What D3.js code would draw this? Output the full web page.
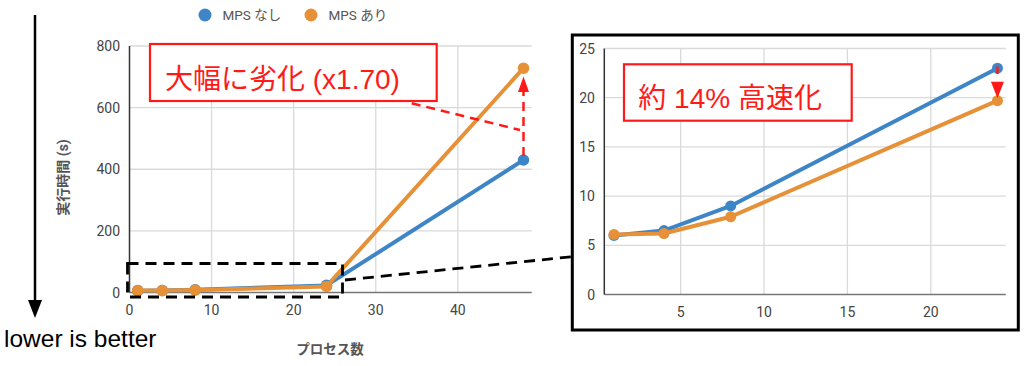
<!DOCTYPE html>
<html><head><meta charset="utf-8">
<script src="https://cdn.jsdelivr.net/npm/d3@7"></script>
<style>body{margin:0;background:#fff}svg{display:block}</style>
</head><body>
<svg id="c" width="1024" height="366"></svg>
<script>
const processes = [1, 4, 8, 24, 48];
const mpsOff = [6.0, 6.5, 9.0, 23.0, 430];
const mpsOn  = [6.1, 6.2, 7.9, 19.7, 728];
const seriesNames = ["MPS なし", "MPS あり"];
const mainYTicks = [0, 200, 400, 600, 800];
const mainXTicks = [0, 10, 20, 30, 40];
const insetYTicks = [0, 5, 10, 15, 20, 25];
const insetXTicks = [5, 10, 15, 20];
const yTitle = "実行時間 (s)";
const xTitle = "プロセス数";
const noteMain = "大幅に劣化 (x1.70)";
const noteInset = "約 14% 高速化";
const betterNote = "lower is better";

const colors = ["#3d85c6", "#e69138"];
const RED = "#ff1a1a";
const FONT = "Roboto, 'Noto Sans CJK JP', sans-serif";
const svg = d3.select("#c");

const data = [mpsOff, mpsOn].map(v => processes.map((p, i) => ({x: p, y: v[i]})));

// ---------- main chart ----------
const xM = d3.scaleLinear().domain([0, 49]).range([129.5, 531.7]);
const yM = d3.scaleLinear().domain([0, 800]).range([292.5, 46]);
const gM = svg.append("g");
gM.selectAll(".gy").data(mainYTicks.filter(d => d > 0)).join("line")
  .attr("x1", xM(0)).attr("x2", xM(49)).attr("y1", d => yM(d)).attr("y2", d => yM(d))
  .attr("stroke", "#dadada").attr("stroke-width", 1.3);
gM.selectAll(".gx").data(mainXTicks.filter(d => d > 0)).join("line")
  .attr("x1", d => xM(d)).attr("x2", d => xM(d)).attr("y1", yM(0)).attr("y2", yM(800))
  .attr("stroke", "#dadada").attr("stroke-width", 1.3);
gM.append("line").attr("x1", xM(0)).attr("x2", xM(49)).attr("y1", yM(0)).attr("y2", yM(0))
  .attr("stroke", "#777").attr("stroke-width", 1.5);
gM.append("line").attr("x1", xM(0)).attr("x2", xM(0)).attr("y1", yM(0)).attr("y2", yM(800))
  .attr("stroke", "#333").attr("stroke-width", 1.5);
gM.selectAll(".ty").data(mainYTicks).join("text")
  .attr("x", 120).attr("y", d => yM(d)).attr("text-anchor", "end").attr("dy", "0.36em")
  .attr("font-family", FONT).attr("font-size", 14).attr("fill", "#444").text(d => d);
gM.selectAll(".tx").data(mainXTicks).join("text")
  .attr("x", d => xM(d)).attr("y", 310).attr("text-anchor", "middle").attr("dy", "0.36em")
  .attr("font-family", FONT).attr("font-size", 14).attr("fill", "#444").text(d => d);

const lineM = d3.line().x(d => xM(d.x)).y(d => yM(d.y));
data.forEach((s, i) => {
  gM.append("path").attr("d", lineM(s)).attr("fill", "none").attr("stroke", colors[i])
    .attr("stroke-width", 4).attr("stroke-linejoin", "round");
  gM.selectAll(null).data(s).join("circle").attr("cx", d => xM(d.x)).attr("cy", d => yM(d.y))
    .attr("r", 5.8).attr("fill", colors[i]);
});

// axis titles
svg.append("text").attr("transform", "translate(63,177.5) rotate(-90)")
  .attr("text-anchor", "middle").attr("dy", "0.36em")
  .attr("font-family", FONT).attr("font-size", 14).attr("font-weight", "bold").attr("fill", "#555").text(yTitle);
svg.append("text").attr("x", 330).attr("y", 349).attr("text-anchor", "middle").attr("dy", "0.36em")
  .attr("font-family", FONT).attr("font-size", 13.5).attr("font-weight", "bold").attr("fill", "#555").text(xTitle);

// legend
const legX = [205, 311];
seriesNames.forEach((n, i) => {
  svg.append("circle").attr("cx", legX[i]).attr("cy", 15).attr("r", 6.5).attr("fill", colors[i]);
  svg.append("text").attr("x", legX[i] + 17.5).attr("y", 15).attr("dy", "0.36em")
    .attr("font-family", FONT).attr("font-size", 13.5).attr("fill", "#555").text(n);
});

// lower is better arrow
svg.append("line").attr("x1", 35).attr("x2", 35).attr("y1", 15).attr("y2", 302)
  .attr("stroke", "#000").attr("stroke-width", 2.5);
svg.append("path").attr("d", "M28,300 L42,300 L35,318 Z").attr("fill", "#000");
svg.append("text").attr("x", 4).attr("y", 346.7)
  .attr("font-family", "'Liberation Sans', Arial, sans-serif").attr("font-size", 24.5).attr("fill", "#000").text(betterNote);

// red annotation (main)
svg.append("rect").attr("x", 150).attr("y", 44).attr("width", 286.7).attr("height", 57)
  .attr("fill", "#fff").attr("stroke", RED).attr("stroke-width", 2.2);
svg.append("text").attr("x", 165).attr("y", 88.5)
  .attr("font-family", "'Liberation Sans', 'Noto Sans CJK JP', sans-serif").attr("font-size", 28).attr("fill", RED).text(noteMain);
svg.append("line").attr("x1", 411.7).attr("y1", 103.3).attr("x2", 520).attr("y2", 130)
  .attr("stroke", RED).attr("stroke-width", 2.5).attr("stroke-dasharray", "9,6");
const ax = xM(48);
svg.append("line").attr("x1", ax).attr("x2", ax).attr("y1", yM(mpsOff[4]) - 4).attr("y2", 92)
  .attr("stroke", RED).attr("stroke-width", 2.5).attr("stroke-dasharray", "9,6");
svg.append("path").attr("d", `M${ax-5.5},92 L${ax+5.5},92 L${ax},76.5 Z`).attr("fill", RED);

// black dashed zoom rect + connector
svg.append("rect").attr("x", 127.5).attr("y", 263.5).attr("width", 215).attr("height", 33.5)
  .attr("fill", "none").attr("stroke", "#000").attr("stroke-width", 2.8).attr("stroke-dasharray", "11,7");
svg.append("line").attr("x1", 345).attr("y1", 280).attr("x2", 572).attr("y2", 256.7)
  .attr("stroke", "#000").attr("stroke-width", 2.8).attr("stroke-dasharray", "11,7");

// ---------- inset ----------
svg.append("rect").attr("x", 572.3).attr("y", 35).attr("width", 446).attr("height", 295)
  .attr("fill", "#fff").attr("stroke", "#000").attr("stroke-width", 3);
const xI = d3.scaleLinear().domain([0.42, 24.5]).range([604.3, 1005.8]);
const yI = d3.scaleLinear().domain([0, 25]).range([294.5, 48.5]);
const gI = svg.append("g");
gI.selectAll(null).data(insetYTicks.filter(d => d > 0)).join("line")
  .attr("x1", xI(0.42)).attr("x2", xI(24.5)).attr("y1", d => yI(d)).attr("y2", d => yI(d))
  .attr("stroke", "#dadada").attr("stroke-width", 1.3);
gI.selectAll(null).data(insetXTicks).join("line")
  .attr("x1", d => xI(d)).attr("x2", d => xI(d)).attr("y1", yI(0)).attr("y2", yI(25))
  .attr("stroke", "#dadada").attr("stroke-width", 1.3);
gI.append("line").attr("x1", xI(0.42)).attr("x2", xI(24.5)).attr("y1", yI(0)).attr("y2", yI(0))
  .attr("stroke", "#777").attr("stroke-width", 1.5);
gI.append("line").attr("x1", xI(0.42)).attr("x2", xI(0.42)).attr("y1", yI(0)).attr("y2", yI(25))
  .attr("stroke", "#333").attr("stroke-width", 1.5);
gI.selectAll(null).data(insetYTicks).join("text")
  .attr("x", 595).attr("y", d => yI(d)).attr("text-anchor", "end").attr("dy", "0.36em")
  .attr("font-family", FONT).attr("font-size", 14).attr("fill", "#444").text(d => d);
gI.selectAll(null).data(insetXTicks).join("text")
  .attr("x", d => xI(d)).attr("y", 311.7).attr("text-anchor", "middle").attr("dy", "0.36em")
  .attr("font-family", FONT).attr("font-size", 14).attr("fill", "#444").text(d => d);
const lineI = d3.line().x(d => xI(d.x)).y(d => yI(d.y));
data.forEach((s, i) => {
  const sub = s.filter(d => d.x <= 24);
  gI.append("path").attr("d", lineI(sub)).attr("fill", "none").attr("stroke", colors[i])
    .attr("stroke-width", 4).attr("stroke-linejoin", "round");
  gI.selectAll(null).data(sub).join("circle").attr("cx", d => xI(d.x)).attr("cy", d => yI(d.y))
    .attr("r", 5.5).attr("fill", colors[i]);
});
// inset red annotation
svg.append("rect").attr("x", 624).attr("y", 64.3).attr("width", 227.7).attr("height", 56.4)
  .attr("fill", "#fff").attr("stroke", RED).attr("stroke-width", 2.2);
svg.append("text").attr("x", 638.3).attr("y", 107.5)
  .attr("font-family", "'Liberation Sans', 'Noto Sans CJK JP', sans-serif").attr("font-size", 28).attr("fill", RED).text(noteInset);
const bx = xI(24);
svg.append("line").attr("x1", bx).attr("x2", bx).attr("y1", 66.5).attr("y2", 74)
  .attr("stroke", RED).attr("stroke-width", 2.5);
svg.append("path").attr("d", `M${bx-6.5},81.7 L${bx+6.5},81.7 L${bx},98.3 Z`).attr("fill", RED);
</script>
</body></html>
